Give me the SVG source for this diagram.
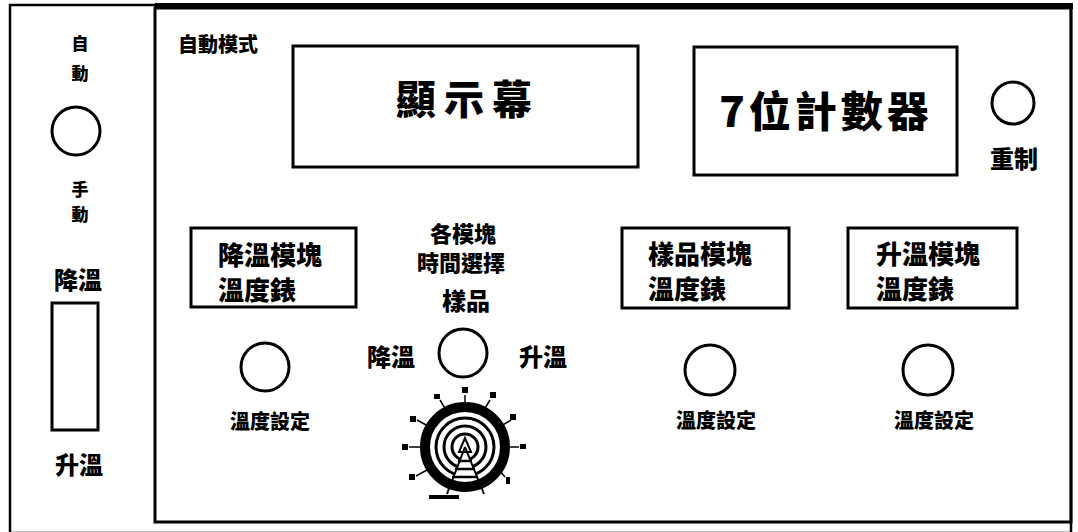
<svg xmlns="http://www.w3.org/2000/svg" width="1078" height="532" viewBox="0 0 1078 532">
<style>
.ln{fill:none;stroke:#000;stroke-width:3}
.t{font-family:"Noto Sans CJK TC","Noto Sans CJK SC",sans-serif;font-weight:900;fill:#000;dominant-baseline:central}
.m{text-anchor:middle}
.blob{fill:#000}
</style>
<rect width="1078" height="532" fill="#fff"/>
<g id="frame">
<rect x="10" y="5" width="1061" height="528" fill="none" stroke="#000" stroke-width="2.5"/>
<rect x="155" y="8" width="916" height="514" fill="none" stroke="#000" stroke-width="3"/>
<line x1="155" y1="6" x2="1073" y2="6" stroke="#000" stroke-width="6"/>
</g>
<g id="mode-switch">
<text class="t m" x="80" y="42" font-size="17">自</text>
<text class="t m" x="80" y="72" font-size="17">動</text>
<circle class="ln" cx="76" cy="131" r="24"/>
<text class="t m" x="80" y="188" font-size="17">手</text>
<text class="t m" x="80" y="213" font-size="17">動</text>
</g>
<g id="temp-slider">
<text class="t m" x="78" y="278" font-size="24">降溫</text>
<rect class="ln" x="52" y="303" width="46" height="127"/>
<text class="t m" x="79" y="463" font-size="24">升溫</text>
</g>
<g id="auto-mode-label">
<text class="t" x="178" y="43" font-size="20">自動模式</text>
</g>
<g id="display">
<rect class="ln" x="293" y="46" width="345" height="121"/>
<text class="t m" x="468" y="97" font-size="40" letter-spacing="8">顯示幕</text>
</g>
<g id="counter">
<rect class="ln" x="694" y="47" width="263" height="128"/>
<text class="t m" x="826" y="108" font-size="42" letter-spacing="4">7位計數器</text>
</g>
<g id="reset">
<circle class="ln" cx="1013" cy="103" r="21"/>
<text class="t m" x="1014" y="157" font-size="24">重制</text>
</g>
<g id="cool-meter">
<rect class="ln" x="191" y="228" width="165" height="79"/>
<text class="t" x="218" y="253" font-size="26">降溫模塊</text>
<text class="t" x="218" y="288" font-size="26">溫度錶</text>
</g>
<g id="cool-set">
<circle class="ln" cx="265" cy="367" r="24"/>
<text class="t m" x="270" y="420" font-size="20">溫度設定</text>
</g>
<g id="timer-select">
<text class="t m" x="463" y="232" font-size="22">各模塊</text>
<text class="t m" x="461" y="261" font-size="22">時間選擇</text>
<text class="t m" x="466" y="299" font-size="24">樣品</text>
<text class="t m" x="391" y="355" font-size="24">降溫</text>
<circle class="ln" cx="463" cy="353" r="24"/>
<text class="t m" x="543" y="355" font-size="24">升溫</text>
</g>
<g id="timer-dial">
<circle cx="465" cy="447" r="40" fill="none" stroke="#000" stroke-width="10"/>
<circle cx="465" cy="447" r="29" fill="none" stroke="#000" stroke-width="3"/>
<circle cx="465" cy="447" r="21" fill="none" stroke="#000" stroke-width="3"/>
<circle cx="465" cy="447" r="13" fill="none" stroke="#000" stroke-width="3"/>
<polygon points="465,447 453,478 477,478" fill="#fff"/>
<line x1="465" y1="447" x2="447" y2="494" stroke="#000" stroke-width="2"/>
<line x1="465" y1="447" x2="484" y2="494" stroke="#000" stroke-width="2"/>
<polygon points="465,438 459,452 471,452" fill="none" stroke="#000" stroke-width="2"/>
<line x1="458" y1="461" x2="472" y2="461" stroke="#000" stroke-width="2.5"/>
<line x1="455" y1="469" x2="475" y2="469" stroke="#000" stroke-width="2.5"/>
<line x1="452" y1="477" x2="478" y2="477" stroke="#000" stroke-width="2.5"/>
<g stroke="#000" stroke-width="1.5">
<line x1="465" y1="395" x2="465" y2="407"/>
<line x1="440" y1="400" x2="446" y2="410"/>
<line x1="490" y1="400" x2="484" y2="410"/>
<line x1="417" y1="420" x2="428" y2="426"/>
<line x1="511" y1="420" x2="501" y2="426"/>
<line x1="409" y1="447" x2="421" y2="447"/>
<line x1="519" y1="447" x2="509" y2="447"/>
<line x1="416" y1="476" x2="427" y2="470"/>
<line x1="505" y1="477" x2="500" y2="471"/>
</g>
<rect class="blob" x="462" y="387" width="6" height="6"/>
<rect class="blob" x="434" y="394" width="6" height="5"/>
<rect class="blob" x="490" y="392" width="6" height="6"/>
<rect class="blob" x="410" y="416" width="6" height="6"/>
<rect class="blob" x="510" y="414" width="6" height="6"/>
<rect class="blob" x="402" y="444" width="6" height="6"/>
<rect class="blob" x="520" y="444" width="6" height="5"/>
<rect class="blob" x="409" y="474" width="6" height="6"/>
<rect class="blob" x="506" y="477" width="4" height="7"/>
<rect class="blob" x="429" y="495" width="30" height="4"/>
</g>
<g id="sample-meter">
<rect class="ln" x="622" y="228" width="167" height="80"/>
<text class="t" x="648" y="252" font-size="26">樣品模塊</text>
<text class="t" x="648" y="287" font-size="26">溫度錶</text>
</g>
<g id="sample-set">
<circle class="ln" cx="710" cy="370" r="25"/>
<text class="t m" x="716" y="419" font-size="20">溫度設定</text>
</g>
<g id="heat-meter">
<rect class="ln" x="848" y="228" width="169" height="80"/>
<text class="t" x="876" y="252" font-size="26">升溫模塊</text>
<text class="t" x="876" y="287" font-size="26">溫度錶</text>
</g>
<g id="heat-set">
<circle class="ln" cx="928" cy="370" r="25"/>
<text class="t m" x="934" y="419" font-size="20">溫度設定</text>
</g>
<g id="connectors"></g>
</svg>
